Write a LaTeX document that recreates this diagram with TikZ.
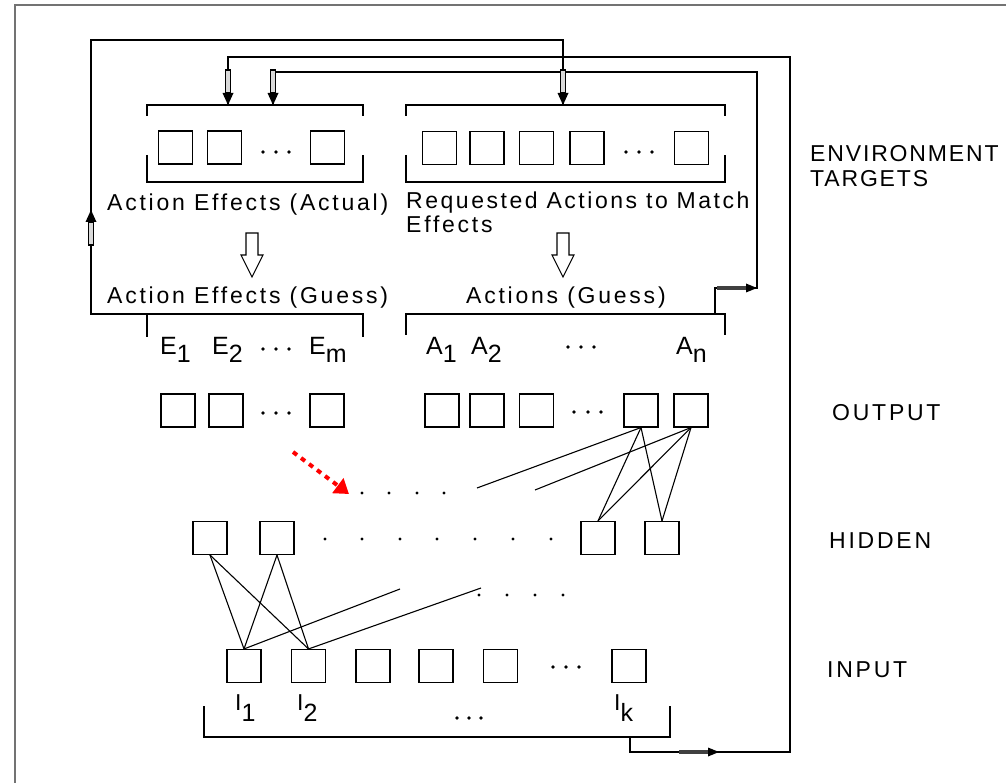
\documentclass[tikz,border=0pt]{standalone}
\usepackage{fontspec}
\setmainfont{Liberation Sans}[LetterSpace=12]
\usetikzlibrary{arrows.meta}
\tikzset{
  ln/.style={line width=1.1pt},
  box/.style={draw, line width=1.1pt, minimum width=34pt, minimum height=33pt, inner sep=0pt},
  lbl/.style={inner sep=0pt, anchor=base west, font=\fontsize{23}{25}\selectfont},
  sub/.style={inner sep=0pt, anchor=base west, font=\fontsize{25}{27}\selectfont},
  dot/.style={fill=black},
  hollowdown/.pic={\draw[ln, fill=white] (-6,0) -- (-6,22) -- (-11,22) -- (0,44) -- (11,22) -- (6,22) -- (6,0) -- cycle;},
  dbldown/.pic={\filldraw[line width=1.3pt, fill=black!15] (-2.6,-23) rectangle (2.6,0); \fill (-5.5,0) -- (5.5,0) -- (0,12) -- cycle;},
  thickright/.pic={\draw[line width=3.2pt, black!75] (-30,0) -- (0,0); \fill (-1,-4.5) -- (10,0) -- (-1,4.5) -- cycle;},
}
\begin{document}
\begin{tikzpicture}[x=1pt, y=-1pt]
\useasboundingbox (0,0) rectangle (1006,783);
% frame
\draw[line width=2pt, black!55] (15,783) -- (15,5) -- (1006,5);

% ---------- top targets ----------
\coordinate (aeaTL) at (147,105); \coordinate (aeaTR) at (363,105);
\draw[ln] (147,116) -- (aeaTL) -- (aeaTR) -- (363,116);
\draw[ln] (147,155) -- (147,182) -- (363,182) -- (363,155);
\coordinate (ramTL) at (406,105); \coordinate (ramTR) at (725,105);
\draw[ln] (406,116) -- (ramTL) -- (ramTR) -- (725,116);
\draw[ln] (406,155) -- (406,182) -- (725,182) -- (725,155);

\node[box] (t1) at (175.5,147.5) {};
\node[box] (t2) at (224.5,147.5) {};
\node[box] (t3) at (327.5,147.5) {};
\foreach \x in {263,276,289} \fill[dot] (\x,152) circle (1.9pt);
\node[box] (r1) at (439.5,148) {};
\node[box] (r2) at (487,148) {};
\node[box] (r3) at (536.5,148) {};
\node[box] (r4) at (587,148) {};
\node[box] (r5) at (691.5,148) {};
\foreach \x in {626,639,652} \fill[dot] (\x,152) circle (1.9pt);

\node[lbl] (aeaTxt) at (107,211) {Action Effects (Actual)};
\node[lbl, align=left, anchor=north west] (ramTxt) at (406,192) {\addfontfeature{LetterSpace=11}Requested Actions to Match\\[-1pt]Effects};

\pic at (252,233) {hollowdown};
\pic at (563,233) {hollowdown};

\node[lbl] (aegTxt) at (107,304) {Action Effects (Guess)};
\node[lbl] (agTxt) at (466,304) {Actions (Guess)};

\coordinate (aegTL) at (147,314); \coordinate (aegTR) at (363,314);
\draw[ln] (147,337) -- (aegTL) -- (aegTR) -- (363,337);
\coordinate (agTL) at (406,314); \coordinate (agTR) at (725,314);
\draw[ln] (406,335) -- (agTL) -- (agTR) -- (725,335);

\node[sub] (e1) at (160,355) {E\raisebox{-8pt}{1}};
\node[sub] (e2) at (212,355) {E\raisebox{-8pt}{2}};
\foreach \x in {263,276,289} \fill[dot] (\x,349) circle (1.9pt);
\node[sub] (em) at (309,355) {E\raisebox{-8pt}{m}};
\node[sub] (a1) at (426,355) {A\raisebox{-8pt}{1}};
\node[sub] (a2) at (471,355) {A\raisebox{-8pt}{2}};
\foreach \x in {568,581,594} \fill[dot] (\x,347) circle (1.9pt);
\node[sub] (an) at (676,355) {A\raisebox{-8pt}{n}};

% ---------- output ----------
\node[box] (o1) at (178,410.5) {};
\node[box] (o2) at (226,410.5) {};
\node[box] (o3) at (327,410.5) {};
\foreach \x in {263,276,289} \fill[dot] (\x,413) circle (1.9pt);
\node[box] (p1) at (442,410.5) {};
\node[box] (p2) at (487,410.5) {};
\node[box] (p3) at (536.5,410.5) {};
\foreach \x in {574,588,601} \fill[dot] (\x,412) circle (1.9pt);
\node[box] (p4) at (641,410.5) {};
\node[box] (p5) at (691,410.5) {};

% ---------- hidden ----------
\node[box] (h1) at (210,538) {};
\node[box] (h2) at (277,538) {};
\node[box] (h3) at (598,538) {};
\node[box] (h4) at (662,538) {};
\foreach \x in {325,362,400,437,475,513,551} \fill[dot] (\x,539) circle (1.7pt);

\foreach \x in {362,389,417,444} \fill[dot] (\x,493) circle (1.7pt);
\foreach \x in {479,507,535,563} \fill[dot] (\x,595) circle (1.7pt);

\coordinate (redS) at (293,452);
\coordinate (redE) at (349,494);
\draw[red, line width=4pt, dash pattern=on 5pt off 5pt, -{Triangle[length=14pt, width=18pt]}] (redS) -- (redE);

\coordinate (fo1) at (477,488);
\coordinate (fo2) at (535,490);
\draw[ln] (p4.south) -- (fo1);
\draw[ln] (p5.south) -- (fo2);
\draw[ln] (p4.south) -- (h3.north);
\draw[ln] (p4.south) -- (h4.north);
\draw[ln] (p5.south) -- (h3.north);
\draw[ln] (p5.south) -- (h4.north);

% ---------- input ----------
\node[box] (i1) at (244,666) {};
\node[box] (i2) at (308.5,666) {};
\node[box] (i3) at (373,666) {};
\node[box] (i4) at (436,666) {};
\node[box] (i5) at (500.5,666) {};
\node[box] (ik) at (629,666) {};
\foreach \x in {553,566,579} \fill[dot] (\x,667) circle (1.9pt);

\coordinate (fi1) at (400,589);
\coordinate (fi2) at (481,588);
\draw[ln] (h1.south) -- (i1.north);
\draw[ln] (h1.south) -- (i2.north);
\draw[ln] (h2.south) -- (i1.north);
\draw[ln] (h2.south) -- (i2.north);
\draw[ln] (i1.north) -- (fi1);
\draw[ln] (i2.north) -- (fi2);

\node[lbl] (l1) at (235,710) {I\raisebox{-11pt}{\fontsize{25}{27}\selectfont 1}};
\node[lbl] (l2) at (297,710) {I\raisebox{-11pt}{\fontsize{25}{27}\selectfont 2}};
\node[lbl] (lk) at (614,710) {I\raisebox{-11pt}{\fontsize{25}{27}\selectfont k}};
\foreach \x in {457,469,481} \fill[dot] (\x,718) circle (1.9pt);

\coordinate (inBL) at (204,737); \coordinate (inBR) at (670,737);
\draw[ln] (204,706) -- (inBL) -- (inBR) -- (670,706);

% ---------- loops ----------
\coordinate (inOut) at (630,737);
\coordinate (c1) at (630,752);
\coordinate (c2) at (790,752);
\coordinate (c3) at (790,57);
\coordinate (c4) at (228,57);
\coordinate (aeaIn1) at (228,105);
\draw[ln] (inOut) -- (c1) -- (c2) -- (c3) -- (c4) -- (aeaIn1);
\pic at (709,752) {thickright};
\pic at (228,93) {dbldown};

\coordinate (agOut) at (715,314);
\coordinate (d1) at (715,288);
\coordinate (d2) at (757,288);
\coordinate (d3) at (757,72);
\coordinate (d4) at (273,72);
\coordinate (aeaIn2) at (273,105);
\draw[ln] (agOut) -- (d1) -- (d2) -- (d3) -- (d4) -- (aeaIn2);
\pic at (747,288) {thickright};
\pic at (273,93) {dbldown};

\coordinate (g1) at (91,314);
\coordinate (g2) at (91,40);
\coordinate (g3) at (563,40);
\coordinate (ramIn) at (563,105);
\draw[ln] (aegTL) -- (g1) -- (g2) -- (g3) -- (ramIn);
\pic at (563,93) {dbldown};
\pic[rotate=180] at (91,222) {dbldown};

% ---------- layer labels ----------
\node[lbl] (envTxt) at (810,162) {\addfontfeature{LetterSpace=8}ENVIRONMENT};
\node[lbl] (tgtTxt) at (810,187) {\addfontfeature{LetterSpace=8}TARGETS};
\node[lbl] (outTxt) at (832,420) {OUTPUT};
\node[lbl] (hidTxt) at (829,548) {HIDDEN};
\node[lbl] (inpTxt) at (827,677) {INPUT};
\end{tikzpicture}
\end{document}
